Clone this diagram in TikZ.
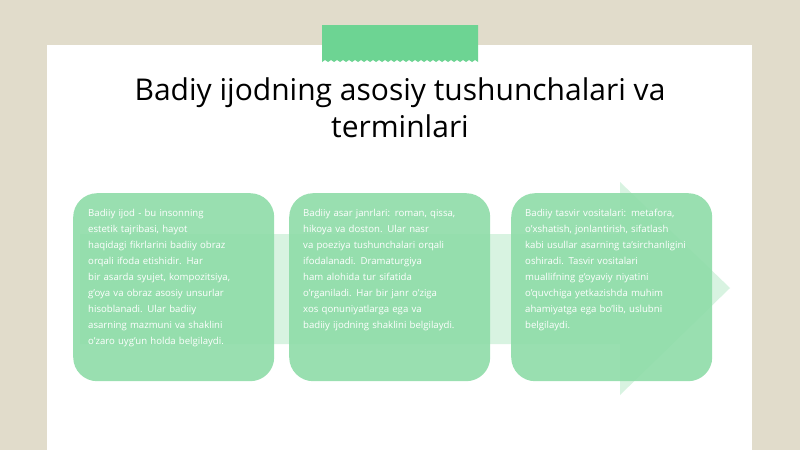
\documentclass[tikz,border=0pt]{standalone}
\usepackage{fontspec}
\setmainfont{Open Sans}
\usetikzlibrary{positioning}
\definecolor{bgbeige}{HTML}{E1DCCB}
\definecolor{tapegreen}{HTML}{6DD493}
\definecolor{boxgreen}{HTML}{8EDCA8}
\definecolor{arrowgreen}{HTML}{D8F3E1}
\tikzset{
  card/.style={rounded corners=24pt, fill=boxgreen, fill opacity=0.9, draw=none, minimum width=201pt, minimum height=188pt, inner sep=0pt},
  cardtext/.style={anchor=north west, text width=172pt, align=left, text=white, inner sep=0pt,
    font=\fontsize{9.6}{16}\selectfont},
  titletext/.style={align=center, font=\fontsize{30}{37}\selectfont, text=black}
}
\begin{document}
\begin{tikzpicture}[x=1pt,y=-1pt]
\useasboundingbox (0,0) rectangle (800,450);
\fill[bgbeige] (0,0) rectangle (800,450);
\fill[white] (47,45) rectangle (752,450);
% tape
\fill[tapegreen] (322,25) -- (478,25) -- (478,62)
  \foreach \i in {0,...,25} { -- ({478-6*\i-3},60) -- ({478-6*\i-6},62) } -- (322,62) -- cycle;
% title
\node[titletext] (title) at (400,108) {Badiy ijodning asosiy tushunchalari va\\terminlari};
% faint arrow
\fill[arrowgreen] (80,234) -- (620,234) -- (620,182) -- (730,288) -- (620,395) -- (620,344) -- (80,344) -- cycle;
% cards
\node[card, anchor=north west] (c1) at (73,193) {};
\node[card, anchor=north west] (c2) at (289,193) {};
\node[card, anchor=north west] (c3) at (511,193) {};
\node[cardtext] (t1) at ([xshift=15pt,yshift=-16pt]c1.north west) {Badiiy ijod - bu insonning\\estetik tajribasi, hayot\\haqidagi fikrlarini badiiy obraz\\orqali ifoda etishidir. Har\\bir asarda syujet, kompozitsiya,\\g'oya va obraz asosiy unsurlar\\hisoblanadi. Ular badiiy\\asarning mazmuni va shaklini\\o'zaro uyg'un holda belgilaydi.};
\node[cardtext] (t2) at ([xshift=14pt,yshift=-16pt]c2.north west) {Badiiy asar janrlari: roman, qissa,\\hikoya va doston. Ular nasr\\va poeziya tushunchalari orqali\\ifodalanadi. Dramaturgiya\\ham alohida tur sifatida\\o'rganiladi. Har bir janr o'ziga\\xos qonuniyatlarga ega va\\badiiy ijodning shaklini belgilaydi.};
\node[cardtext] (t3) at ([xshift=14pt,yshift=-16pt]c3.north west) {Badiiy tasvir vositalari: metafora,\\o'xshatish, jonlantirish, sifatlash\\kabi usullar asarning ta'sirchanligini\\oshiradi. Tasvir vositalari\\muallifning g'oyaviy niyatini\\o'quvchiga yetkazishda muhim\\ahamiyatga ega bo'lib, uslubni\\belgilaydi.};
\end{tikzpicture}
\end{document}
